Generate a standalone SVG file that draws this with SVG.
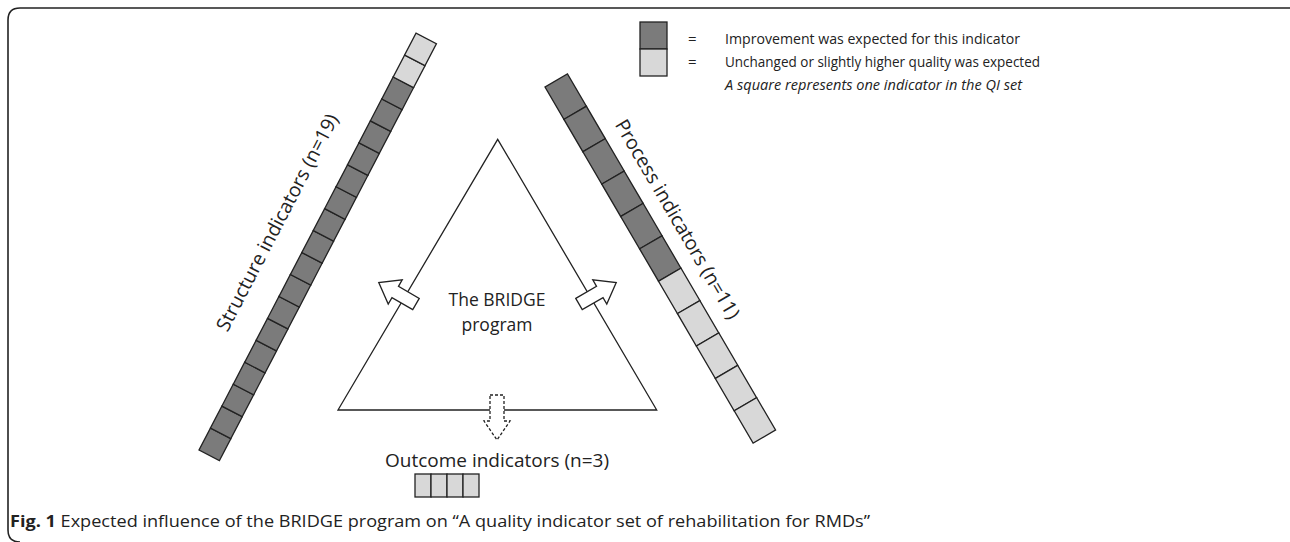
<svg xmlns="http://www.w3.org/2000/svg" width="1290" height="542" viewBox="0 0 1290 542">
<style>
.dk{fill:#7b7b7b;stroke:#222;stroke-width:1.3}
.lt{fill:#d8d8d8;stroke:#222;stroke-width:1.3}
.t{font-family:"Open Sans","Liberation Sans",sans-serif;fill:#222}
.arr{fill:#fff;stroke:#222;stroke-width:1.3;stroke-linejoin:miter}
</style>
<rect width="1290" height="542" fill="#fff"/>
<path d="M1290,8 H20 Q8,8 8,20 V530 Q8,542 20,542" fill="none" stroke="#222" stroke-width="1.6"/>
<g id="legend">
<rect class="dk" x="640" y="22" width="27" height="27"/>
<rect class="lt" x="640" y="49" width="27" height="27"/>
<text class="t" x="688" y="44" font-size="15">=</text>
<text class="t" x="688" y="67" font-size="15">=</text>
<text class="t" x="725" y="44" font-size="15" textLength="295" lengthAdjust="spacingAndGlyphs">Improvement was expected for this indicator</text>
<text class="t" x="725" y="67" font-size="15" textLength="315" lengthAdjust="spacingAndGlyphs">Unchanged or slightly higher quality was expected</text>
<text class="t" x="725" y="90" font-size="15" font-style="italic" textLength="297" lengthAdjust="spacingAndGlyphs">A square represents one indicator in the QI set</text>
</g>
<g id="structure" transform="translate(199,450) rotate(-62.5)">
<rect class="dk" x="0" y="0" width="24.74" height="23"/>
<rect class="dk" x="24.74" y="0" width="24.74" height="23"/>
<rect class="dk" x="49.47" y="0" width="24.74" height="23"/>
<rect class="dk" x="74.21" y="0" width="24.74" height="23"/>
<rect class="dk" x="98.95" y="0" width="24.74" height="23"/>
<rect class="dk" x="123.68" y="0" width="24.74" height="23"/>
<rect class="dk" x="148.42" y="0" width="24.74" height="23"/>
<rect class="dk" x="173.16" y="0" width="24.74" height="23"/>
<rect class="dk" x="197.89" y="0" width="24.74" height="23"/>
<rect class="dk" x="222.63" y="0" width="24.74" height="23"/>
<rect class="dk" x="247.37" y="0" width="24.74" height="23"/>
<rect class="dk" x="272.11" y="0" width="24.74" height="23"/>
<rect class="dk" x="296.84" y="0" width="24.74" height="23"/>
<rect class="dk" x="321.58" y="0" width="24.74" height="23"/>
<rect class="dk" x="346.32" y="0" width="24.74" height="23"/>
<rect class="dk" x="371.05" y="0" width="24.74" height="23"/>
<rect class="dk" x="395.79" y="0" width="24.74" height="23"/>
<rect class="lt" x="420.53" y="0" width="24.74" height="23"/>
<rect class="lt" x="445.26" y="0" width="24.74" height="23"/>
<text class="t" x="238" y="-29" font-size="19.5" text-anchor="middle">Structure indicators (n=19)</text>
</g>
<g id="process" transform="translate(545,87) rotate(59.7)">
<rect class="dk" x="0" y="-26" width="37.5" height="26"/>
<rect class="dk" x="37.5" y="-26" width="37.5" height="26"/>
<rect class="dk" x="75" y="-26" width="37.5" height="26"/>
<rect class="dk" x="112.5" y="-26" width="37.5" height="26"/>
<rect class="dk" x="150" y="-26" width="37.5" height="26"/>
<rect class="dk" x="187.5" y="-26" width="37.5" height="26"/>
<rect class="lt" x="225" y="-26" width="37.5" height="26"/>
<rect class="lt" x="262.5" y="-26" width="37.5" height="26"/>
<rect class="lt" x="300" y="-26" width="37.5" height="26"/>
<rect class="lt" x="337.5" y="-26" width="37.5" height="26"/>
<rect class="lt" x="375" y="-26" width="37.5" height="26"/>
<text class="t" x="181" y="-41" font-size="19.5" text-anchor="middle">Process indicators (n=11)</text>
</g>
<g id="bridge">
<polygon points="497.7,139.3 656.7,410 338,410" fill="#fff" stroke="#222" stroke-width="1.3"/>
<text class="t" x="497" y="306" font-size="17.5" text-anchor="middle">The BRIDGE</text>
<text class="t" x="497" y="331" font-size="17.5" text-anchor="middle">program</text>
</g>
<g id="outcome">
<text class="t" x="497" y="467" font-size="19" text-anchor="middle">Outcome indicators (n=3)</text>
<rect class="lt" x="415" y="474" width="16" height="23"/>
<rect class="lt" x="431" y="474" width="16" height="23"/>
<rect class="lt" x="447" y="474" width="16" height="23"/>
<rect class="lt" x="463" y="474" width="16" height="23"/>
</g>
<g id="connectors">
<path class="arr" transform="translate(416,304) rotate(210)" d="M0,-6.5 L24,-6.5 L24,-14 L43,0 L24,14 L24,6.5 L0,6.5 Z"/>
<path class="arr" transform="translate(579,304) rotate(-30)" d="M0,-6.5 L24,-6.5 L24,-14 L43,0 L24,14 L24,6.5 L0,6.5 Z"/>
<path class="arr" stroke-dasharray="3,2" d="M490,395 L504,395 L504,421 L510,421 L497,440 L484,421 L490,421 Z"/>
</g>
<text class="t" x="10" y="527" font-size="16" textLength="860" lengthAdjust="spacingAndGlyphs"><tspan font-weight="bold">Fig. 1</tspan> Expected influence of the BRIDGE program on “A quality indicator set of rehabilitation for RMDs”</text>
</svg>
